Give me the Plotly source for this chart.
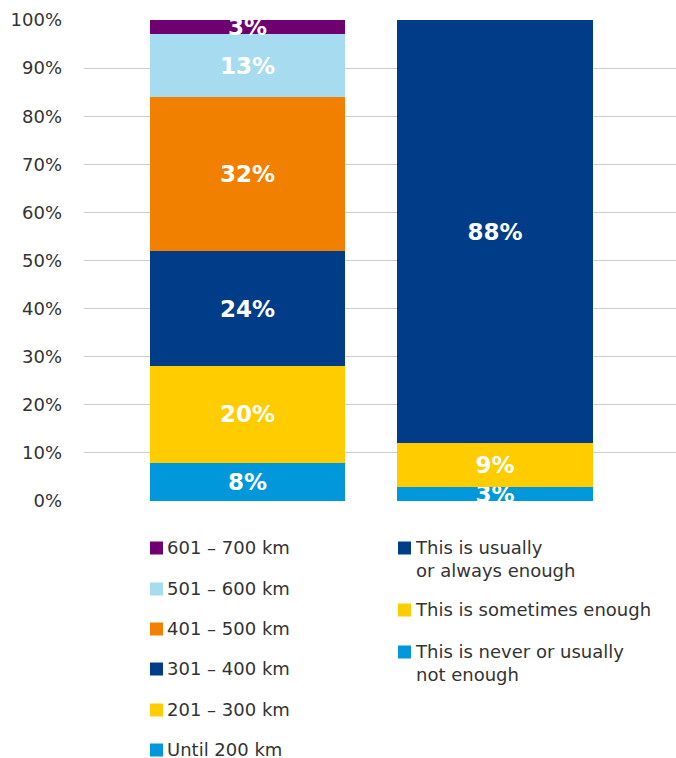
import plotly.graph_objects as go

# Data
bar_x = [0, 1]
range_labels = ["Until 200 km", "201 – 300 km", "301 – 400 km", "401 – 500 km", "501 – 600 km", "601 – 700 km"]
range_values = [8, 20, 24, 32, 13, 3]
range_colors = ["#0098DB", "#FFCC00", "#003C87", "#F28000", "#A7DBF0", "#6E0071"]

enough_labels = ["This is never or usually<br>not enough", "This is sometimes enough", "This is usually<br>or always enough"]
enough_values = [3, 9, 88]
enough_colors = ["#0098DB", "#FFCC00", "#003C87"]

y_ticks = [0, 10, 20, 30, 40, 50, 60, 70, 80, 90, 100]

W, H = 676, 758
L, R, T, B = 84, 0, 20, 257
FONT = "DejaVu Sans"
TXT = "#333333"

fig = go.Figure()

for lab, val, col in zip(range_labels, range_values, range_colors):
    fig.add_trace(go.Bar(
        x=[bar_x[0]], y=[val], marker_color=col, marker_line_width=0,
        width=0.79, text=[f"{val}%"], textposition="inside",
        insidetextanchor="middle", textfont=dict(color="white", size=23, family=FONT, weight="bold"),
        name=lab, showlegend=False,
    ))

for lab, val, col in zip(enough_labels, enough_values, enough_colors):
    fig.add_trace(go.Bar(
        x=[bar_x[1]], y=[val], marker_color=col, marker_line_width=0,
        width=0.79, text=[f"{val}%"], textposition="inside",
        insidetextanchor="middle", textfont=dict(color="white", size=23, family=FONT, weight="bold"),
        name=lab, showlegend=False,
    ))

fig.update_layout(
    barmode="stack",
    width=W, height=H,
    margin=dict(l=L, r=R, t=T, b=B),
    paper_bgcolor="white", plot_bgcolor="white",
    font=dict(family=FONT, color=TXT, size=18),
    uniformtext=dict(minsize=23, mode="show"),
    hovermode=False,
    xaxis=dict(range=[-0.66, 1.731], showticklabels=False, showgrid=False, zeroline=False, fixedrange=True),
    yaxis=dict(range=[0, 100], tickvals=y_ticks, ticktext=[f"{v}%" for v in y_ticks],
               showgrid=True, gridcolor="#CCCCCC", gridwidth=1, zeroline=False, fixedrange=True,
               ticklabelstandoff=21, tickfont=dict(size=18, color=TXT)),
)


# custom two-column legend below the chart (pixels -> paper coords)
def px_x(px):
    return (px - L) / (W - L - R)


def px_y(py):
    return (H - B - py) / (H - T - B)


def legend_item(sq_x, py, col, text, text_x):
    fig.add_shape(type="rect", xref="paper", yref="paper",
                  x0=px_x(sq_x), x1=px_x(sq_x + 13), y0=px_y(py + 6.5), y1=px_y(py - 6.5),
                  fillcolor=col, line_width=0)
    fig.add_annotation(xref="paper", yref="paper", x=px_x(text_x), y=px_y(py - 13),
                       text=text, showarrow=False, xanchor="left", yanchor="top", align="left",
                       font=dict(size=18, color=TXT, family=FONT))


left_rows = [548, 589, 629, 669, 710, 750]
for py, lab, col in zip(left_rows, range_labels[::-1], range_colors[::-1]):
    legend_item(150, py, col, lab, 165)

right_rows = [548, 610, 652]
for py, lab, col in zip(right_rows, enough_labels[::-1], enough_colors[::-1]):
    legend_item(398, py, col, lab, 413)

# drop the default page margin so the figure fills the window exactly
fig.write_html("out.html", config={"displayModeBar": False},
               post_script="document.body.style.margin='0';document.body.style.overflow='hidden';")
